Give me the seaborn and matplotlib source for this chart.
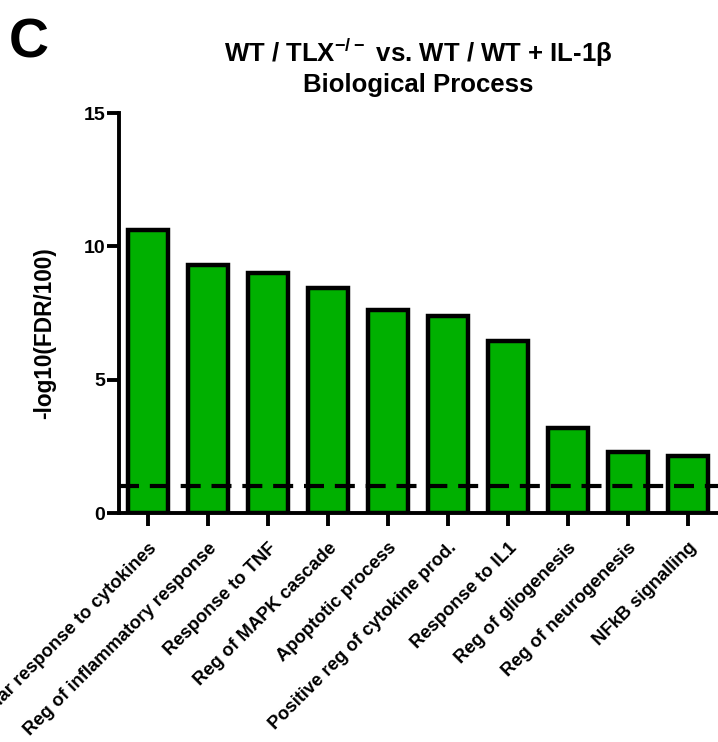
import matplotlib
matplotlib.use("Agg")
from matplotlib import pyplot as plt
import seaborn as sns
import pandas as pd

# GO terms (first one is cut off at the left edge in the original panel)
terms = ["Cellular response to cytokines", "Reg of inflammatory response",
         "Response to TNF", "Reg of MAPK cascade", "Apoptotic process",
         "Positive reg of cytokine prod.", "Response to IL1",
         "Reg of gliogenesis", "Reg of neurogenesis", "NFkB signalling"]
scores = [10.6, 9.3, 9.0, 8.45, 7.6, 7.4, 6.45, 3.2, 2.3, 2.15]
threshold = 1.0
y_ticks = [0, 5, 10, 15]

df = pd.DataFrame({"term": terms, "score": scores})

sns.set_style("ticks")
plt.rcParams['font.family'] = ['Liberation Sans', 'DejaVu Sans']
plt.rcParams['font.weight'] = 'bold'
plt.rcParams['text.color'] = 'black'
plt.rcParams['axes.labelcolor'] = 'black'
plt.rcParams['xtick.color'] = 'black'
plt.rcParams['ytick.color'] = 'black'
plt.rcParams['mathtext.fontset'] = 'custom'
plt.rcParams['mathtext.rm'] = 'Liberation Sans:bold'

fig = plt.figure(figsize=(7.18, 7.42), dpi=100)
ax = fig.add_axes([0.1657, 0.3086, 0.8343, 0.539])

sns.barplot(data=df, x="term", y="score", color="#00b000", saturation=1,
            width=0.68, edgecolor="black", linewidth=3.2, ax=ax)

# significance cut-off
ax.axhline(threshold, color="black", linestyle=(0, (4.8, 2.6)), linewidth=3, zorder=5)

ax.set_ylim(0, 15)
ax.set_xlim(-0.483, 9.5)
ax.set_yticks(y_ticks)
ax.set_yticklabels([str(t) for t in y_ticks], fontsize=14, fontweight='bold')
ax.set_xticks(range(len(terms)))
ax.set_xticklabels(terms, rotation=45, ha='right', rotation_mode='anchor',
                   fontsize=13.2, fontweight='bold')
ax.set_xlabel("")
ax.set_ylabel("-log10(FDR/100)", fontsize=16.3, fontweight='bold')
ax.yaxis.set_label_coords(-0.105, 0.45)

for side in ["top", "right"]:
    ax.spines[side].set_visible(False)
for side in ["left", "bottom"]:
    ax.spines[side].set_linewidth(2.8)
    ax.spines[side].set_color("black")
ax.tick_params(axis='y', length=9, width=2.8, pad=1)
ax.tick_params(axis='x', length=9, width=2.8, pad=10)

ax.set_title("WT / TLX$^{\\mathrm{-/-}}$ vs. WT / WT + IL-1\u03b2\nBiological Process",
             fontsize=18.5, fontweight='bold', pad=15, linespacing=1.2)

fig.text(0.012, 0.922, "C", fontsize=40, fontweight='bold')

fig.savefig("out.png", dpi=100)
